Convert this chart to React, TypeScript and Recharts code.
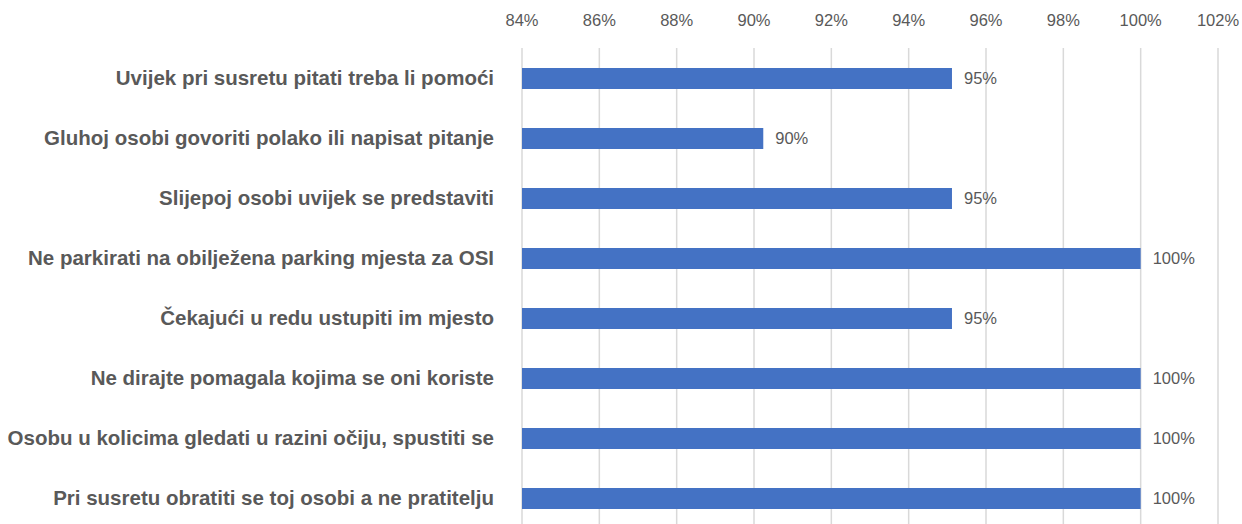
import { BarChart, Bar, XAxis, YAxis, CartesianGrid, LabelList } from "recharts";

const categories = [
  "Uvijek pri susretu pitati treba li pomoći",
  "Gluhoj osobi govoriti polako ili napisat pitanje",
  "Slijepoj osobi uvijek se predstaviti",
  "Ne parkirati na obilježena parking mjesta za OSI",
  "Čekajući u redu ustupiti im mjesto",
  "Ne dirajte pomagala kojima se oni koriste",
  "Osobu u kolicima gledati u razini očiju, spustiti se",
  "Pri susretu obratiti se toj osobi a ne pratitelju",
];

const shares = [95.12, 90.24, 95.12, 100, 95.12, 100, 100, 100];

const xTicks = [84, 86, 88, 90, 92, 94, 96, 98, 100, 102];

const data = categories.map((name, i) => ({ name, value: shares[i] }));

const font = "'Liberation Sans', Arial, sans-serif";

export default function App() {
  return (
    <div
      style={{
        position: "absolute",
        left: 0,
        top: 0,
        width: 1242,
        height: 524,
        overflow: "hidden",
        background: "#fff",
        fontFamily: font,
      }}
    >
      <BarChart
        width={1242}
        height={540}
        data={data}
        layout="vertical"
        margin={{ top: 0, right: 24, bottom: 12, left: 0 }}
        barCategoryGap={0}
      >
        <CartesianGrid horizontal={false} stroke="#d9d9d9" strokeWidth={1.5} />
        <XAxis
          type="number"
          orientation="top"
          domain={[84, 102]}
          ticks={xTicks}
          tickFormatter={(v: number) => `${v}%`}
          axisLine={false}
          tickLine={false}
          height={48}
          tickMargin={16}
          tick={{ fill: "#595959", fontSize: 16.5 }}
          interval={0}
        />
        <YAxis
          type="category"
          dataKey="name"
          width={522}
          axisLine={false}
          tickLine={false}
          tickSize={0}
          tickMargin={28}
          tick={{ fill: "#595959", fontSize: 20.5, fontWeight: "bold" }}
          interval={0}
        />
        <Bar dataKey="value" fill="#4472C4" barSize={21} isAnimationActive={false}>
          <LabelList
            dataKey="value"
            position="right"
            offset={12}
            formatter={(v: any) => `${Math.round(Number(v))}%`}
            fill="#595959"
            fontSize={16.5}
          />
        </Bar>
      </BarChart>
    </div>
  );
}
